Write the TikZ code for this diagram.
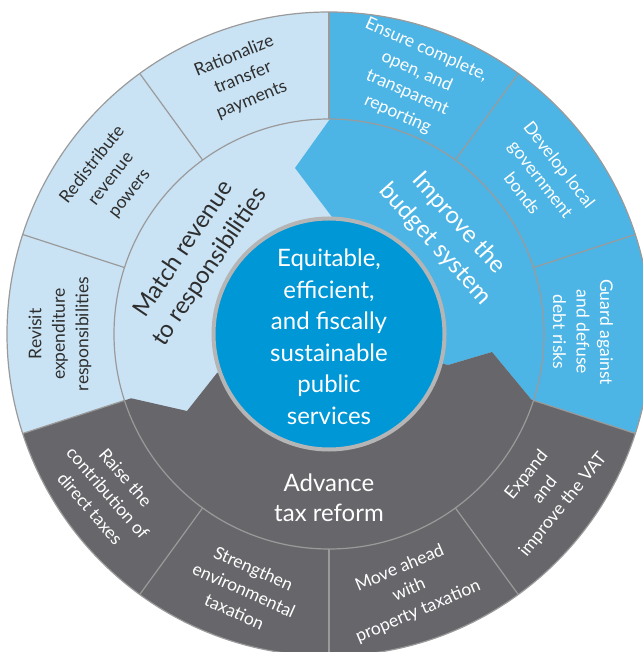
\documentclass[tikz,border=0pt]{standalone}
\usepackage{fontspec}
\setmainfont{Lato}
\definecolor{pale}{HTML}{C9E3F4}
\definecolor{sky}{HTML}{4DB5E5}
\definecolor{core}{HTML}{0097D7}
\definecolor{tax}{HTML}{67676B}
\definecolor{rim}{HTML}{9A9A9A}
\definecolor{halo}{HTML}{B5B5B5}
\definecolor{ink}{HTML}{2E2E2E}
\begin{document}
\begin{tikzpicture}
  [x=1pt,y=1pt,every node/.style={align=center,inner sep=0pt}]
  \tikzstyle{seg} = [font=\fontsize{17.5}{23.5}\selectfont]
  \tikzstyle{goal} = [font=\fontsize{24}{31.5}\selectfont]
  \tikzstyle{hub} = [circle,minimum size=231,fill=core,draw=halo,line width=4]
  \tikzstyle{edge} = [draw=rim,line width=1.2]
  \useasboundingbox (-329,-318) rectangle (313,334);
  % three sectors
  \fill[pale] (0,0) circle (322);
  \fill[sky] (90:322) arc[start angle=90,end angle=-18,radius=322] -- (342:213)
    -- (163,-18) -- (119,-31) -- (0,0) -- (3,117) -- (-34,166) -- (1,215) -- cycle;
  \fill[tax] (198:322) arc[start angle=198,end angle=342,radius=322] -- (342:213)
    -- (163,-18) -- (119,-31) -- (0,0) -- (-112,-39) -- (-142,-77) -- (198:208) -- cycle;
  % rings and spokes
  \draw[edge] (0,0) circle (215);
  \foreach \ang in {18,54,...,342}
    \draw[edge] (\ang:215) -- (\ang:322);
  \draw[edge] (0,0) circle (322);
  \node[hub] (hub) at (0,0) {};
  \node[goal,text=white] (goal) at (0,-3)
    {Equitable,\\efficient,\\and fiscally\\sustainable\\public\\services};
  % inner ring
  \node[goal,text=ink,rotate=56] (match) at (-132,76) {Match revenue\\to responsibilities};
  \node[goal,text=white,rotate=-48] (budget) at (118,100) {Improve the\\budget system};
  \node[goal,text=white,font=\fontsize{24}{30}\selectfont] (reform) at (0,-164) {Advance\\tax reform};
  % outer ring
  \foreach \nm/\px/\py/\tilt/\lbl in {rat/-86/256/22/{Rationalize\\transfer\\payments},
      red/-218/155/52/{Redistribute\\revenue\\powers},
      rev/-269/0/90/{Revisit\\expenditure\\responsibilities}}
    \node[seg,text=ink,rotate=\tilt] (\nm) at (\px,\py) {\lbl};
  \foreach \nm/\px/\py/\tilt/\lbl in {ens/83/252/-24/{Ensure complete,\\open, and\\transparent\\reporting},
      dev/212/155/-52/{Develop local\\government\\bonds},
      gua/254/2/-90/{Guard against\\and defuse\\debt risks},
      rai/-221/-159/-49/{Raise the\\contribution of\\direct taxes},
      str/-85/-256/-24/{Strengthen\\environmental\\taxation},
      mov/80/-256/23/{Move ahead\\with\\property taxation},
      exp/216/-156/51/{Expand\\and\\improve the VAT}}
    \node[seg,text=white,rotate=\tilt] (\nm) at (\px,\py) {\lbl};
\end{tikzpicture}
\end{document}
